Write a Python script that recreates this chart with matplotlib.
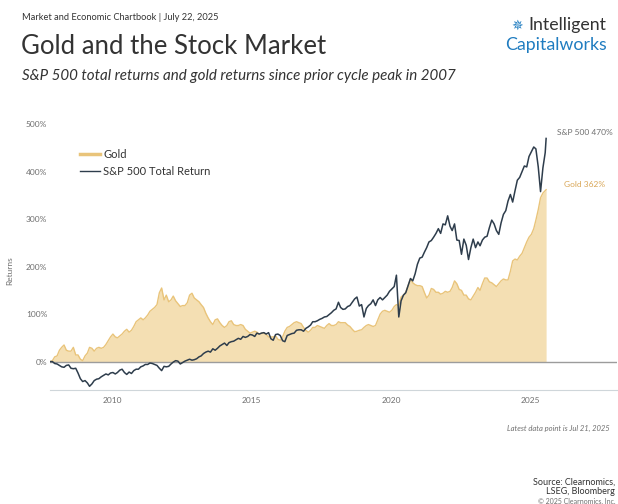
import pandas as pd
import matplotlib.pyplot as plt
from matplotlib.lines import Line2D

plt.rcParams['font.family'] = ['Lato', 'DejaVu Sans']

# Monthly returns since Oct 2007 (%)
gold = [
    2, 10, 12,
    24, 30, 35, 24, 22, 22, 30, 14, 14, 5, 2, 12,
    18, 30, 28, 22, 28, 30, 28, 30, 36, 44, 52, 58,
    52, 50, 54, 58, 64, 68, 62, 66, 74, 84, 88, 92,
    88, 92, 98, 106, 110, 114, 120, 145, 155, 130, 140, 126,
    130, 138, 128, 122, 116, 118, 118, 124, 140, 144, 134, 130,
    126, 120, 114, 102, 92, 84, 78, 88, 90, 82, 76, 72,
    76, 84, 86, 78, 76, 76, 78, 76, 68, 64, 60, 62,
    64, 62, 58, 60, 60, 57, 52, 52, 52, 54, 47, 45,
    52, 64, 72, 74, 78, 82, 84, 82, 80, 72, 66, 62,
    66, 72, 72, 76, 74, 72, 70, 76, 80, 76, 76, 78,
    84, 82, 82, 82, 77, 74, 68, 63, 64, 66, 67, 72,
    76, 78, 76, 74, 76, 88, 100, 106, 108, 106, 104, 108,
    116, 120, 118, 136, 140, 146, 160, 174, 166, 162, 160, 160,
    158, 146, 134, 140, 154, 152, 146, 146, 142, 144, 148, 146,
    148, 156, 170, 164, 152, 150, 140, 140, 132, 130, 138, 146,
    156, 150, 164, 176, 176, 168, 166, 162, 158, 164, 170, 174,
    172, 172, 190, 212, 216, 214, 222, 228, 240, 252, 262, 268,
    280, 298, 320, 345, 355, 360, 362,
]
sp500 = [
    0, -4, -5,
    -8, -11, -12, -8, -7, -14, -15, -14, -24, -36, -42, -40,
    -45, -52, -47, -40, -37, -36, -32, -29, -26, -28, -24, -23,
    -26, -23, -18, -16, -23, -27, -22, -25, -19, -16, -16, -11,
    -9, -6, -6, -3, -4, -6, -8, -14, -19, -10, -11, -10,
    -5, -1, 2, 1, -5, -2, 1, 3, 5, 3, 4, 6,
    10, 12, 17, 20, 22, 20, 27, 24, 28, 33, 36, 39,
    34, 40, 42, 43, 46, 49, 47, 53, 51, 53, 57, 56,
    53, 60, 58, 60, 61, 58, 61, 48, 45, 57, 58, 55,
    44, 42, 55, 57, 59, 60, 66, 67, 67, 64, 70, 73,
    77, 84, 84, 86, 89, 91, 94, 95, 99, 103, 108, 111,
    125, 114, 110, 111, 116, 118, 125, 132, 136, 117, 120, 94,
    112, 118, 122, 130, 118, 130, 135, 130, 135, 140, 148, 153,
    158, 182, 94, 128, 140, 145, 160, 175, 170, 185, 205, 218,
    220, 230, 240, 252, 255, 262, 270, 280, 270, 290, 288, 307,
    285, 276, 290, 256, 255, 226, 258, 245, 215, 240, 258, 240,
    252, 244, 256, 262, 264, 282, 298, 290, 276, 268, 292, 310,
    318, 338, 352, 336, 360, 382, 388, 400, 412, 410, 432, 442,
    452, 448, 410, 358, 408, 440, 470,
]
dates = pd.date_range('2007-10-09', periods=len(gold), freq='MS') + pd.Timedelta(days=8)
dates = dates.insert(0, pd.Timestamp('2007-10-09'))
gold = [0] + gold
sp500 = [0] + sp500
dates = dates[:-1].append(pd.DatetimeIndex(['2025-07-21']))

ytick_vals = [0, 100, 200, 300, 400, 500]
xtick_years = [2010, 2015, 2020, 2025]

gold_fill = '#f4dfb3'
gold_line = '#e9c47a'
sp_color = '#2e3d4c'
gray = '#6f6f6f'

fig = plt.figure(figsize=(6.18, 5.04), dpi=100)
ax = fig.add_axes([0.081, 0.226, 0.917, 0.537])

ax.fill_between(dates, 0, gold, color=gold_fill, lw=0)
ax.plot(dates, gold, color=gold_line, lw=1)
ax.axhline(0, color='#9c9c9c', lw=1)
ax.plot(dates, sp500, color=sp_color, lw=1.1)

ax.set_xlim(pd.Timestamp('2007-10-09'), pd.Timestamp('2028-02-01'))
ax.set_ylim(-60, 510)
ax.set_yticks(ytick_vals)
ax.set_yticklabels([f'{v}%' for v in ytick_vals])
ax.set_xticks([pd.Timestamp(f'{y}-01-01') for y in xtick_years])
ax.set_xticklabels([str(y) for y in xtick_years])
ax.tick_params(length=0, labelsize=6, labelcolor=gray, pad=5)
ax.tick_params(axis='y', pad=2)
for s in ['top', 'right', 'left']:
    ax.spines[s].set_visible(False)
ax.spines['bottom'].set_color('#cfd6da')
ax.set_ylabel('Returns', fontsize=6, color=gray)
ax.yaxis.set_label_coords(-0.065, 0.44)

handles = [Line2D([], [], color=gold_line, lw=2.5), Line2D([], [], color=sp_color, lw=1)]
ax.legend(handles, ['Gold', 'S&P 500 Total Return'], loc='upper left',
          bbox_to_anchor=(0.035, 0.928), frameon=False, fontsize=8,
          handlelength=1.8, handletextpad=0.3, labelspacing=0.55, labelcolor='#333333')

ax.annotate('S&P 500 470%', (dates[-1], sp500[-1]), xytext=(8, 4), textcoords='offset points',
            fontsize=6, color=gray, va='center')
ax.annotate('Gold 362%', (dates[-1], gold[-1]), xytext=(13, 4), textcoords='offset points',
            fontsize=6, color='#d9a656', va='center')

# header
fig.text(22/618, 1-17/504, 'Market and Economic Chartbook | July 22, 2025', fontsize=6.7,
         color='#333333', va='center')
fig.text(21/618, 1-47/504, 'Gold and the Stock Market', fontsize=18.5, color='#333333', va='center')
fig.text(22/618, 1-76/504, 'S&P 500 total returns and gold returns since prior cycle peak in 2007',
         fontsize=10.9, style='italic', color='#333333', va='center')
fig.text(606/618, 1-25/504, 'Intelligent', fontsize=12.8, color='#333333', va='center', ha='right')
fig.text(607/618, 1-45/504, 'Capitalworks', fontsize=12.8, color='#1f7cc0', va='center', ha='right')
fig.text(517/618, 1-26/504, '\u2735', fontsize=10, color='#1f7cc0', va='center', ha='center',
         family='DejaVu Sans')

# footer
fig.text(610/618, 1-428/504, 'Latest data point is Jul 21, 2025', fontsize=5.5, style='italic',
         color=gray, ha='right', va='center')
fig.text(615/618, 1-482/504, 'Source: Clearnomics,', fontsize=6.5, color='#333333', ha='right', va='center')
fig.text(615/618, 1-492/504, 'LSEG, Bloomberg', fontsize=6.5, color='#333333', ha='right', va='center')
fig.text(615/618, 1-501/504, '\u00a9 2025 Clearnomics, Inc.', fontsize=5, color=gray, ha='right', va='center')

fig.savefig('out.png', dpi=100)
